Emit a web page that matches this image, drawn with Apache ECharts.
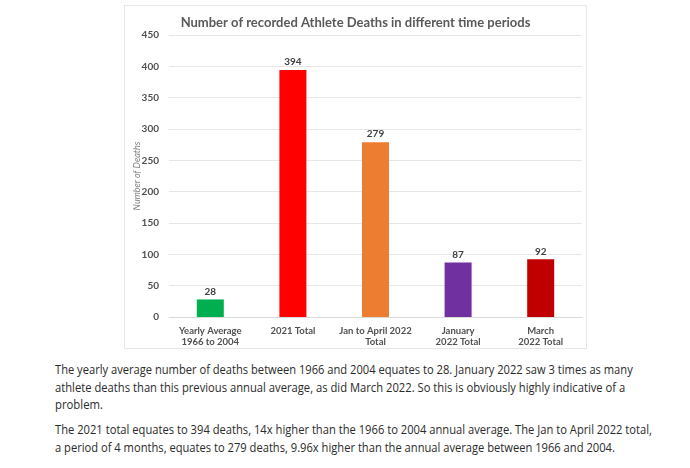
<!DOCTYPE html>
<html>
<head>
<meta charset="utf-8">
<script src="https://cdn.jsdelivr.net/npm/echarts@6/dist/echarts.min.js"></script>
<style>
  html, body { margin: 0; padding: 0; background: #fff; overflow: hidden; }
  #frame {
    position: absolute; left: 124px; top: 5px; width: 463px; height: 344px;
    border: 1px solid #e6e6e6; box-sizing: border-box;
  }
  #chart { width: 100%; height: 100%; }
  #txt {
    position: absolute; left: 55px; top: 361px; white-space: nowrap;
    font-family: "Open Sans", "Noto Sans", sans-serif;
    color: #2b2b2b; font-size: 13px; line-height: 17.5px;
  }
  #txt p { margin: 0 0 7.5px 0; }
  #txt span { display: inline-block; transform-origin: 0 50%; }
</style>
</head>
<body>
<div id="frame"><div id="chart"></div></div>
<div id="txt">
  <p><span data-w="578">The yearly average number of deaths between 1966 and 2004 equates to 28. January 2022 saw 3 times as many</span><br><span data-w="570">athlete deaths than this previous annual average, as did March 2022. So this is obviously highly indicative of a</span><br><span data-w="48">problem.</span></p>
  <p><span data-w="597">The 2021 total equates to 394 deaths, 14x higher than the 1966 to 2004 annual average. The Jan to April 2022 total,</span><br><span data-w="560">a period of 4 months, equates to 279 deaths, 9.96x higher than the annual average between 1966 and 2004.</span></p>
</div>
<script>
(function () {
  "use strict";

  // ---------------- data ----------------
  var categories = [
    "Yearly Average\n1966 to 2004",
    "2021 Total",
    "Jan to April 2022\nTotal",
    "January\n2022 Total",
    "March\n2022 Total"
  ];
  var deaths = [28, 394, 279, 87, 92];
  var barColors = ["#00b050", "#ff0000", "#ed7d31", "#7030a0", "#c00000"];

  var FONT = 'Lato, "Open Sans", sans-serif';

  // squeeze each text line to the width it has in the screenshot
  function fitLines() {
    document.querySelectorAll("#txt span").forEach(function (el) {
      var w = el.getBoundingClientRect().width;
      var target = Number(el.getAttribute("data-w"));
      if (w > 0 && target) el.style.transform = "scaleX(" + (target / w).toFixed(3) + ")";
    });
  }

  var chart = echarts.init(document.getElementById("chart"), null, { renderer: "canvas" });
  chart.setOption({
    animation: false,
    backgroundColor: "#fff",
    textStyle: { fontFamily: FONT },
    title: {
      text: "Number of recorded Athlete Deaths in different time periods",
      left: "center", top: 5,
      textStyle: { fontFamily: FONT, fontSize: 13, fontWeight: "bold", color: "#595959" },
    },
    grid: { left: 44, right: 4, top: 29, bottom: 31, containLabel: false, outerBoundsMode: "none" },
    xAxis: {
      type: "category",
      data: categories,
      axisLine: { lineStyle: { color: "#d9d9d9" } },
      axisTick: { show: false },
      axisLabel: {
        interval: 0, margin: 8, fontSize: 9.5, lineHeight: 11.5,
        fontWeight: "bold", color: "#505050", fontFamily: FONT,
      },
    },
    yAxis: {
      type: "value", min: 0, max: 450, interval: 50,
      name: "Number of Deaths", nameLocation: "middle", nameGap: 27, nameMoveOverlap: false,
      nameTextStyle: { fontFamily: FONT, fontSize: 9, fontStyle: "italic", color: "#7f7f7f" },
      axisLine: { show: false },
      axisTick: { show: false },
      splitLine: { lineStyle: { color: "#e6e6e6" } },
      axisLabel: { margin: 10, fontSize: 10, fontWeight: "bold", color: "#505050", fontFamily: FONT },
    },
    series: [{
      type: "bar",
      barWidth: 27,
      data: deaths.map(function (v, i) {
        return { value: v, itemStyle: { color: barColors[i] } };
      }),
      label: {
        show: true, position: "top", distance: 3,
        fontSize: 10, fontWeight: "bold", color: "#404040", fontFamily: FONT,
      },
    }],
  });

  if (document.fonts && document.fonts.ready) {
    document.fonts.ready.then(fitLines);
  } else {
    fitLines();
  }
})();
</script>
</body>
</html>
